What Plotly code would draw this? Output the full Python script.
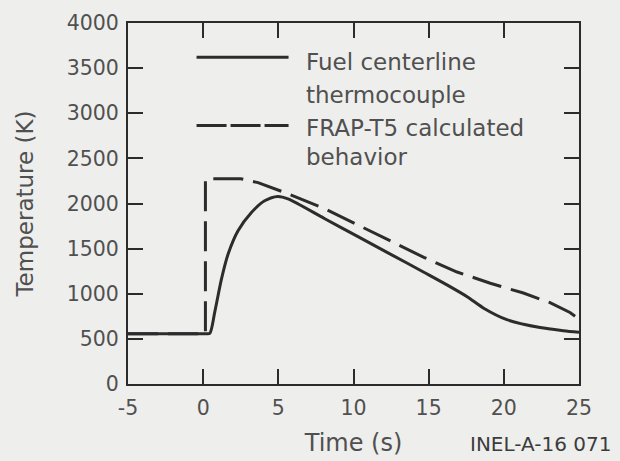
import plotly.graph_objects as go

# Fuel centerline thermocouple reading (time in s, temperature in K)
tc_time = [-5, -3, -1, 0.2, 0.44, 0.77, 1.22, 1.66, 2.32, 3.21, 4.09, 4.97, 5.64,
           8.06, 10.27, 12.48, 14.68, 16.45, 17.56, 18.66, 20.2, 22.41, 23.95, 25.0]
tc_temp = [558, 558, 558, 558, 562, 797, 1165, 1440, 1698, 1900, 2030, 2078, 2051,
           1834, 1635, 1437, 1238, 1076, 967, 840, 713, 625, 591, 574]

# FRAP-T5 calculated behavior
frap_time = [-5, 0.15, 0.15, 0.6, 2.5, 3.65, 5.41, 8.06, 10.27, 12.48, 14.68,
             16.89, 19.1, 21.3, 23.07, 24.4, 25.0]
frap_temp = [556, 556, 2270, 2275, 2275, 2231, 2123, 1944, 1764, 1583, 1403,
             1241, 1116, 1008, 901, 793, 720]

x_ticks = [-5, 0, 5, 10, 15, 20, 25]
y_ticks = [0, 500, 1000, 1500, 2000, 2500, 3000, 3500, 4000]

legend_labels = [["Fuel centerline", "thermocouple"],
                 ["FRAP-T5 calculated", "behavior"]]

BG = "#eeeeec"
INK = "#2c2c2c"
TEXT = "#505050"
FONT = "DejaVu Sans"

fig = go.Figure()
fig.add_trace(go.Scatter(
    x=frap_time, y=frap_temp, mode="lines",
    line=dict(color=INK, width=3, dash="30px,10px"),
    showlegend=False, hoverinfo="skip"))
fig.add_trace(go.Scatter(
    x=tc_time, y=tc_temp, mode="lines",
    line=dict(color=INK, width=3, shape="spline", smoothing=0.8),
    showlegend=False, hoverinfo="skip"))

# Key: line samples with two-line labels
key_x0, key_x1 = 0.152, 0.356
key_rows = [(0.905, "solid"), (0.716, "30px,4px")]
for (ky, dash), lines in zip(key_rows, legend_labels):
    fig.add_shape(type="line", xref="paper", yref="paper",
                  x0=key_x0, x1=key_x1, y0=ky, y1=ky,
                  line=dict(color=INK, width=3, dash=dash))
for ky, text in [(0.893, legend_labels[0][0]), (0.801, legend_labels[0][1]),
                 (0.709, legend_labels[1][0]), (0.628, legend_labels[1][1])]:
    fig.add_annotation(x=0.39, y=ky, xref="paper", yref="paper",
                       text=text, showarrow=False, xanchor="left",
                       yanchor="middle",
                       font=dict(family=FONT, size=23, color=TEXT))

# Figure identifier, bottom right
fig.add_annotation(x=(614 - 128) / 451, y=-(458 - 384) / 361,
                   xref="paper", yref="paper", text="INEL-A-16 071",
                   showarrow=False, xanchor="right", yanchor="bottom",
                   font=dict(family=FONT, size=20, color="#3c3c3c"))

axis_common = dict(
    showline=True, linecolor=INK, linewidth=2, mirror="ticks",
    ticks="inside", ticklen=15, tickwidth=2, tickcolor=INK,
    showgrid=False, zeroline=False,
    tickfont=dict(family=FONT, size=20.5, color=TEXT),
)

fig.update_xaxes(range=[-5, 25], tickvals=x_ticks,
                 ticktext=[str(v) for v in x_ticks],
                 ticklabelstandoff=4,
                 title=dict(text="Time (s)", standoff=16,
                            font=dict(family=FONT, size=24, color=TEXT)),
                 **axis_common)
fig.update_yaxes(range=[0, 4000], tickvals=y_ticks,
                 ticktext=[str(v) for v in y_ticks],
                 ticklabelstandoff=3,
                 title=dict(text="Temperature (K)", standoff=27,
                            font=dict(family=FONT, size=23, color=TEXT)),
                 **axis_common)

fig.update_layout(
    width=620, height=461,
    margin=dict(l=128, r=41, t=23, b=77, autoexpand=False),
    paper_bgcolor=BG, plot_bgcolor=BG,
    font=dict(family=FONT, color=TEXT),
)

fig.write_html("out.html")
